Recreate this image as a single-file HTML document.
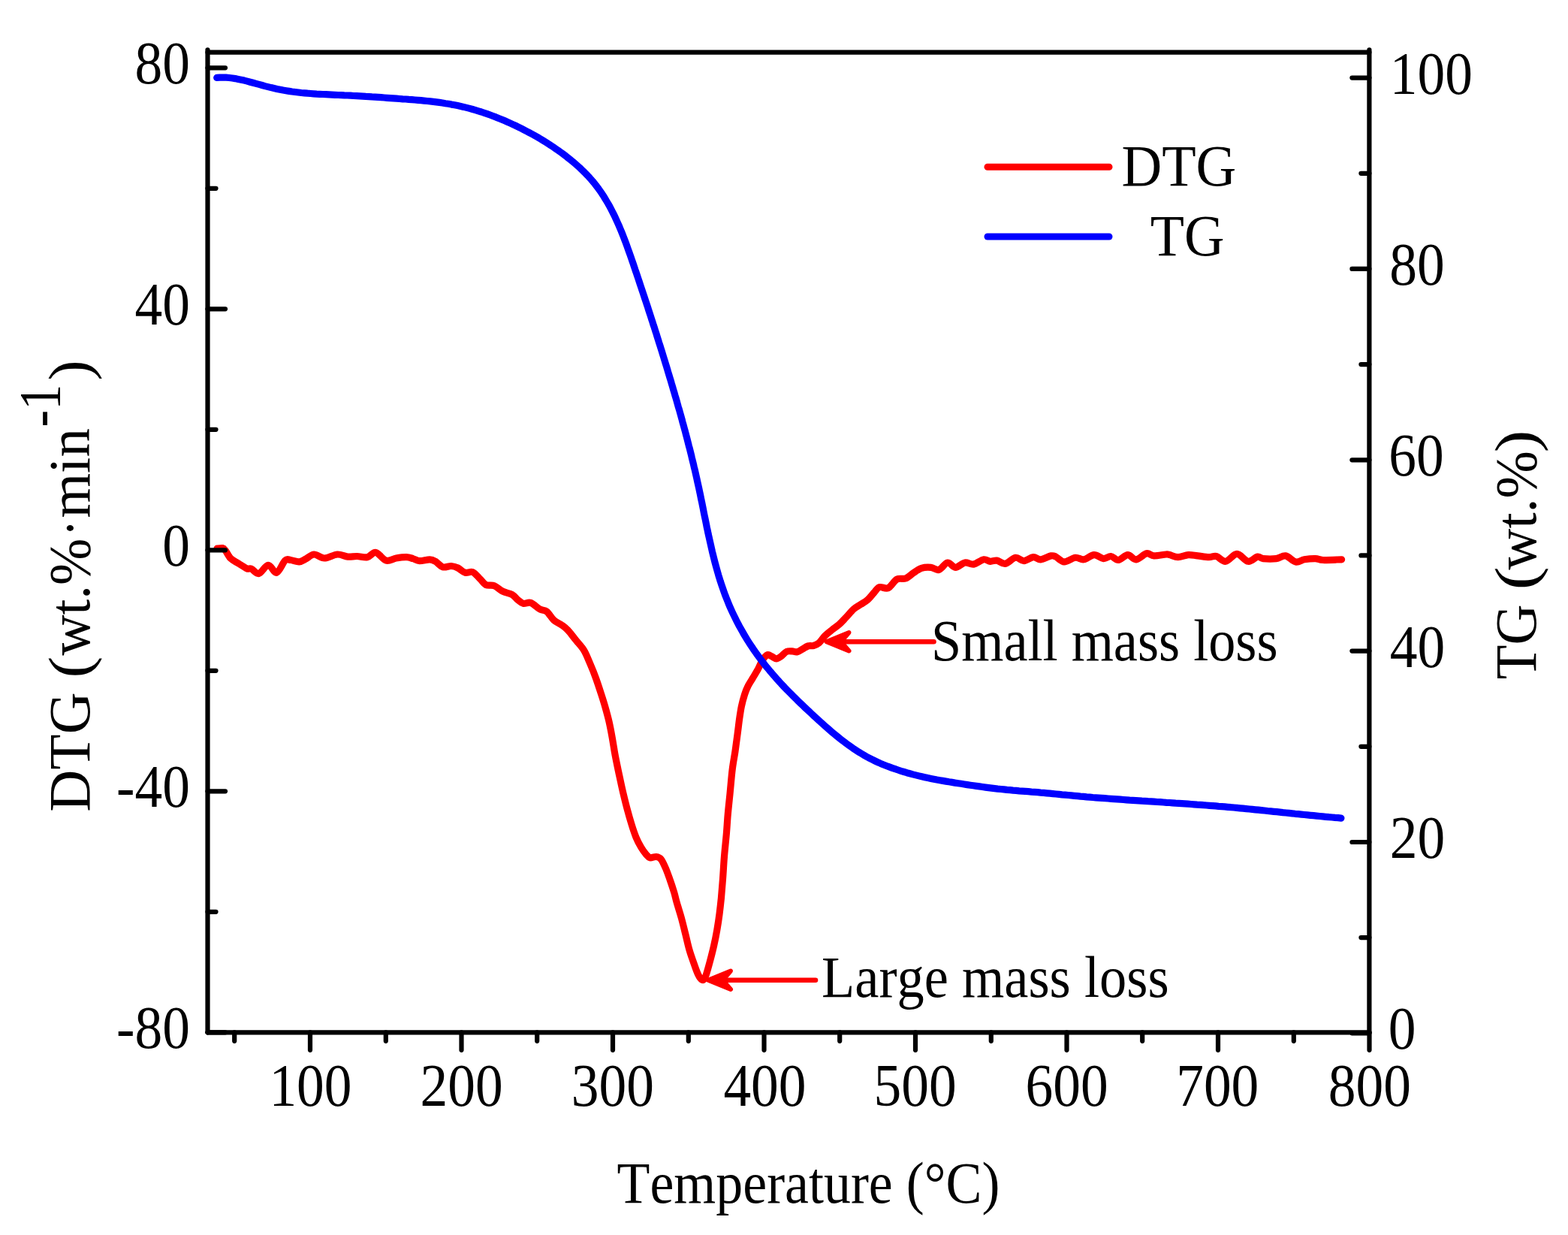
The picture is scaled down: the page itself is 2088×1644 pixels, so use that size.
<!DOCTYPE html>
<html><head><meta charset="utf-8"><title>TG-DTG</title>
<style>html,body{margin:0;padding:0;background:#fff;overflow:hidden;width:2088px;height:1644px;}svg{display:block;}</style></head>
<body><svg width="2088" height="1644" viewBox="0 0 2088 1644">
<rect width="2088" height="1644" fill="#fff"/>
<path d="M289.0,730.2 C290.2,730.1 294.4,729.2 296.2,729.6 C298.0,730.0 298.0,730.1 299.9,732.4 C301.8,734.7 304.5,740.7 307.4,743.6 C310.3,746.5 313.8,747.6 317.3,749.8 C320.8,752.0 325.6,755.5 328.5,756.7 C331.4,758.0 332.1,756.2 334.8,757.3 C337.5,758.4 341.0,764.3 344.7,763.5 C348.4,762.7 353.2,752.5 357.2,752.3 C361.1,752.1 364.7,763.3 368.4,762.3 C372.1,761.3 376.5,748.9 379.6,746.1 C382.7,743.3 384.0,745.2 387.1,745.5 C390.2,745.8 395.0,748.1 398.3,747.9 C401.6,747.7 403.7,745.9 407.0,744.2 C410.3,742.6 414.1,738.2 418.2,738.0 C422.3,737.8 426.7,743.0 431.9,743.0 C437.1,743.0 444.1,738.3 449.3,738.0 C454.5,737.7 458.6,740.7 463.0,741.1 C467.4,741.5 471.1,740.4 475.5,740.5 C479.9,740.6 485.1,742.5 489.2,741.7 C493.3,740.9 496.2,734.8 500.4,735.5 C504.5,736.2 509.6,744.9 514.1,746.1 C518.6,747.4 523.0,743.7 527.5,743.0 C532.0,742.3 537.5,741.6 541.2,741.7 C544.9,741.8 547.0,742.8 549.9,743.6 C552.8,744.4 554.9,746.5 558.6,746.7 C562.3,746.9 568.8,744.7 572.3,744.8 C575.8,744.9 576.9,745.6 579.8,747.3 C582.7,749.0 586.2,753.8 589.7,754.8 C593.2,755.8 597.6,753.3 600.9,753.5 C604.2,753.7 606.6,754.5 609.7,756.0 C612.8,757.5 616.3,761.4 619.6,762.3 C622.9,763.2 626.3,760.1 629.6,761.6 C632.9,763.1 636.7,768.2 639.6,771.0 C642.5,773.8 643.9,777.0 647.0,778.5 C650.1,780.0 654.5,778.2 658.2,779.7 C661.9,781.2 665.5,785.2 669.4,787.2 C673.3,789.2 678.6,789.6 681.9,791.5 C685.2,793.4 686.9,796.4 689.4,798.4 C691.9,800.4 693.9,802.7 696.8,803.4 C699.7,804.1 703.1,801.2 706.8,802.4 C710.4,803.6 715.2,808.8 718.7,810.8 C722.2,812.8 725.0,811.6 728.1,814.1 C731.2,816.6 734.1,822.5 737.5,825.5 C740.9,828.5 745.1,830.0 748.2,832.2 C751.3,834.4 753.1,835.6 756.2,838.9 C759.3,842.2 763.3,847.8 766.9,852.2 C770.5,856.7 774.5,860.5 777.6,865.6 C780.7,870.7 782.9,876.8 785.6,883.0 C788.3,889.2 791.2,896.4 793.6,903.1 C796.0,909.8 798.3,916.9 800.3,923.1 C802.3,929.3 803.9,934.2 805.7,940.5 C807.5,946.8 809.5,953.9 811.0,960.6 C812.5,967.3 813.8,974.1 815.0,980.7 C816.2,987.3 817.4,995.1 818.2,1000.0 C819.1,1004.9 819.0,1004.6 820.1,1010.1 C821.2,1015.6 823.2,1025.5 824.8,1032.8 C826.4,1040.1 827.8,1047.1 829.5,1054.2 C831.2,1061.3 832.9,1068.5 834.8,1075.6 C836.7,1082.7 838.9,1090.5 840.9,1097.0 C842.9,1103.5 844.8,1109.3 846.9,1114.4 C849.0,1119.5 851.4,1124.0 853.6,1127.8 C855.8,1131.6 858.3,1134.9 860.3,1137.2 C862.3,1139.5 863.4,1141.2 865.6,1141.8 C867.8,1142.3 871.2,1140.2 873.6,1140.5 C876.0,1140.8 878.1,1141.0 880.3,1143.8 C882.5,1146.6 885.0,1152.5 887.0,1157.2 C889.0,1161.9 890.6,1166.8 892.4,1171.9 C894.2,1177.0 896.2,1183.1 897.7,1188.0 C899.2,1192.9 899.5,1195.4 901.1,1201.1 C902.7,1206.8 905.5,1215.1 907.4,1222.1 C909.3,1229.1 911.0,1236.2 912.7,1243.2 C914.5,1250.2 916.0,1257.6 917.9,1264.3 C919.8,1271.0 922.4,1277.8 924.3,1283.3 C926.2,1288.8 927.8,1293.5 929.5,1297.0 C931.2,1300.5 933.2,1303.6 934.8,1304.3 C936.4,1305.0 937.2,1305.2 939.0,1301.2 C940.8,1297.2 943.4,1287.1 945.3,1280.1 C947.2,1273.1 949.0,1266.0 950.6,1259.0 C952.2,1252.0 953.6,1245.0 954.8,1238.0 C956.0,1231.0 957.1,1223.9 958.0,1216.9 C958.9,1209.9 959.6,1203.6 960.4,1195.8 C961.1,1188.0 961.8,1179.3 962.5,1170.0 C963.2,1160.7 963.7,1149.9 964.5,1140.0 C965.3,1130.1 966.5,1119.8 967.3,1110.4 C968.1,1101.0 968.5,1092.5 969.3,1083.6 C970.1,1074.7 971.0,1066.9 972.0,1056.9 C973.0,1046.9 974.1,1032.9 975.3,1023.4 C976.5,1013.9 977.9,1007.7 979.0,1000.0 C980.1,992.3 981.1,984.4 982.1,977.0 C983.1,969.6 983.9,962.0 984.8,955.9 C985.7,949.8 986.3,945.4 987.4,940.1 C988.5,934.8 990.2,928.7 991.6,924.3 C993.0,919.9 994.0,917.3 995.8,913.8 C997.5,910.3 999.8,907.1 1002.1,903.2 C1004.4,899.3 1007.2,894.8 1009.5,890.6 C1011.8,886.4 1013.7,881.1 1015.8,877.9 C1017.9,874.7 1020.3,872.3 1022.2,871.6 C1024.1,870.9 1025.5,872.8 1027.4,873.7 C1029.3,874.6 1031.7,876.9 1033.8,876.9 C1035.9,876.9 1037.8,875.3 1040.1,873.7 C1042.4,872.1 1045.0,868.5 1047.5,867.4 C1050.0,866.3 1052.5,866.8 1054.8,866.9 C1057.1,867.0 1058.9,868.3 1061.2,867.9 C1063.5,867.5 1066.0,865.5 1068.5,864.2 C1071.0,862.9 1073.4,860.8 1075.9,860.0 C1078.4,859.2 1080.8,860.2 1083.3,859.5 C1085.8,858.8 1088.2,858.0 1090.7,855.8 C1093.2,853.6 1095.5,849.4 1098.4,846.5 C1101.3,843.6 1104.7,841.0 1107.9,838.5 C1111.1,836.0 1114.4,833.8 1117.4,831.2 C1120.4,828.6 1122.6,826.1 1125.8,822.7 C1129.0,819.4 1133.1,814.1 1136.4,811.1 C1139.7,808.1 1142.7,806.9 1145.8,804.8 C1148.9,802.7 1152.3,801.1 1155.3,798.5 C1158.3,795.9 1161.2,791.8 1163.8,789.0 C1166.4,786.2 1167.9,782.6 1171.1,781.6 C1174.2,780.6 1178.8,784.5 1182.7,782.7 C1186.6,781.0 1190.4,773.2 1194.3,771.1 C1198.2,769.0 1202.2,771.4 1205.9,770.0 C1209.6,768.6 1212.9,765.0 1216.4,762.7 C1219.9,760.4 1223.1,757.5 1227.0,756.3 C1230.9,755.1 1235.7,754.9 1239.6,755.3 C1243.5,755.7 1246.5,759.5 1250.2,758.5 C1253.9,757.5 1258.1,749.5 1261.8,749.0 C1265.5,748.5 1268.4,755.3 1272.3,755.3 C1276.2,755.3 1280.9,749.7 1284.9,749.0 C1288.9,748.3 1292.3,751.8 1296.5,751.1 C1300.7,750.4 1306.3,745.4 1310.0,744.8 C1313.7,744.2 1315.8,747.1 1318.7,747.3 C1321.6,747.5 1324.1,745.6 1327.4,746.1 C1330.7,746.6 1334.4,751.0 1338.6,750.4 C1342.8,749.8 1348.1,742.9 1352.3,742.3 C1356.5,741.7 1359.5,746.8 1363.5,746.7 C1367.5,746.6 1372.3,742.0 1376.0,741.7 C1379.7,741.4 1382.0,745.1 1385.9,744.8 C1389.8,744.5 1396.3,740.5 1399.6,739.9 C1402.9,739.3 1403.0,739.8 1405.9,741.1 C1408.8,742.4 1412.8,747.7 1417.1,747.9 C1421.4,748.1 1427.7,742.8 1432.0,742.3 C1436.3,741.8 1439.0,745.4 1443.2,744.8 C1447.4,744.2 1452.5,738.8 1456.9,738.6 C1461.3,738.4 1465.7,743.3 1469.4,743.6 C1473.1,743.9 1476.0,740.2 1479.3,740.5 C1482.6,740.8 1485.6,745.8 1489.3,745.5 C1493.0,745.2 1497.8,738.7 1501.7,738.6 C1505.6,738.5 1508.7,745.1 1512.9,744.8 C1517.1,744.5 1522.8,737.5 1526.7,736.7 C1530.7,735.9 1532.2,739.7 1536.6,739.9 C1540.9,740.1 1549.3,738.2 1552.8,738.0 C1556.3,737.8 1554.8,738.0 1557.5,738.6 C1560.2,739.2 1564.5,741.7 1568.7,741.7 C1572.9,741.7 1578.1,738.9 1582.4,738.6 C1586.8,738.3 1590.2,739.4 1594.8,739.9 C1599.4,740.4 1605.6,741.6 1609.8,741.7 C1614.0,741.8 1616.0,739.6 1619.7,740.5 C1623.4,741.4 1627.6,747.8 1632.2,747.3 C1636.8,746.8 1642.1,737.4 1647.1,737.4 C1652.1,737.4 1657.5,746.7 1662.1,747.3 C1666.7,747.9 1671.2,741.7 1674.5,741.1 C1677.8,740.5 1677.8,743.2 1682.0,743.6 C1686.2,744.0 1694.4,744.2 1699.4,743.6 C1704.4,743.0 1707.5,739.2 1711.9,739.9 C1716.3,740.6 1721.4,747.2 1725.6,748.0 C1729.8,748.8 1732.4,745.5 1736.8,744.8 C1741.2,744.1 1747.5,743.5 1751.7,743.6 C1755.9,743.7 1755.9,745.3 1761.7,745.5 C1767.5,745.7 1782.4,744.9 1786.6,744.8" fill="none" stroke="#ff0000" stroke-width="9.2" stroke-linejoin="round" stroke-linecap="round"/>
<polyline points="288.7,103.4 292.8,103.1 297.0,103.1 301.0,103.2 305.1,103.5 309.2,104.0 313.2,104.6 317.2,105.4 321.2,106.2 325.2,107.1 329.2,108.1 333.1,109.2 337.1,110.3 341.1,111.4 345.0,112.4 349.0,113.5 352.9,114.6 356.9,115.6 360.9,116.6 364.9,117.5 368.9,118.4 372.9,119.2 376.9,120.0 380.9,120.7 385.0,121.4 389.0,122.0 393.1,122.5 397.1,123.0 401.2,123.5 405.3,123.8 409.4,124.2 413.4,124.5 417.5,124.8 421.6,125.1 425.7,125.3 429.8,125.5 433.9,125.7 438.0,125.9 442.1,126.1 446.2,126.3 450.3,126.5 454.4,126.7 458.5,126.9 462.6,127.0 466.7,127.2 470.8,127.5 474.9,127.7 478.9,127.9 483.0,128.1 487.1,128.4 491.2,128.6 495.3,128.9 499.4,129.1 503.5,129.4 507.6,129.7 511.6,130.0 515.7,130.3 519.8,130.6 523.9,130.9 528.0,131.2 532.1,131.5 536.2,131.8 540.3,132.0 544.3,132.4 548.4,132.7 552.5,133.0 556.6,133.3 560.7,133.7 564.8,134.1 568.8,134.5 572.9,134.9 577.0,135.4 581.0,135.9 585.1,136.4 589.2,137.0 593.2,137.7 597.3,138.3 601.3,139.1 605.3,139.8 609.3,140.6 613.4,141.5 617.4,142.4 621.3,143.4 625.3,144.4 629.3,145.5 633.2,146.6 637.1,147.8 641.0,149.0 644.9,150.3 648.8,151.6 652.6,153.0 656.5,154.5 660.3,155.9 664.1,157.5 667.9,159.0 671.7,160.6 675.4,162.2 679.2,163.9 682.9,165.6 686.6,167.3 690.3,169.1 694.0,170.9 697.7,172.8 701.3,174.7 704.9,176.6 708.5,178.5 712.1,180.5 715.7,182.5 719.2,184.6 722.7,186.7 726.2,188.9 729.7,191.1 733.1,193.3 736.5,195.5 739.9,197.9 743.3,200.2 746.6,202.6 749.9,205.0 753.2,207.5 756.4,210.1 759.6,212.6 762.8,215.2 765.9,217.9 769.0,220.6 772.1,223.4 775.0,226.2 778.0,229.1 780.8,232.0 783.6,234.9 786.4,238.0 789.0,241.0 791.6,244.2 794.1,247.4 796.5,250.6 798.9,253.9 801.2,257.2 803.4,260.6 805.5,264.0 807.6,267.5 809.7,271.0 811.7,274.6 813.6,278.2 815.5,281.8 817.3,285.4 819.1,289.1 820.8,292.9 822.5,296.6 824.2,300.4 825.8,304.2 827.4,308.0 828.9,311.8 830.4,315.7 831.9,319.5 833.4,323.4 834.8,327.3 836.2,331.2 837.6,335.1 839.0,339.0 840.4,343.0 841.7,346.9 843.1,350.8 844.4,354.7 845.7,358.7 847.1,362.6 848.4,366.5 849.7,370.4 851.0,374.3 852.3,378.2 853.6,382.1 854.9,386.0 856.2,389.9 857.5,393.8 858.8,397.7 860.1,401.6 861.4,405.5 862.7,409.4 863.9,413.3 865.2,417.2 866.5,421.1 867.7,425.0 869.0,428.9 870.2,432.8 871.5,436.6 872.7,440.5 874.0,444.4 875.2,448.3 876.4,452.2 877.6,456.1 878.9,460.0 880.1,463.8 881.3,467.7 882.5,471.6 883.7,475.5 884.9,479.4 886.1,483.3 887.3,487.2 888.5,491.1 889.6,495.0 890.8,498.9 892.0,502.8 893.2,506.7 894.3,510.6 895.5,514.5 896.6,518.4 897.8,522.4 898.9,526.3 900.1,530.2 901.2,534.1 902.3,538.1 903.4,542.0 904.6,545.9 905.7,549.9 906.8,553.8 907.9,557.7 908.9,561.7 910.0,565.6 911.1,569.6 912.2,573.5 913.2,577.5 914.3,581.5 915.3,585.4 916.3,589.4 917.3,593.4 918.4,597.3 919.4,601.3 920.4,605.3 921.3,609.3 922.3,613.3 923.3,617.3 924.2,621.3 925.2,625.3 926.1,629.3 927.0,633.3 927.9,637.3 928.8,641.4 929.7,645.4 930.6,649.4 931.4,653.4 932.3,657.5 933.1,661.5 933.9,665.6 934.8,669.6 935.6,673.7 936.4,677.7 937.2,681.8 938.0,685.8 938.9,689.9 939.7,693.9 940.5,697.9 941.3,702.0 942.2,706.0 943.0,710.1 943.9,714.1 944.8,718.1 945.7,722.1 946.6,726.1 947.5,730.1 948.4,734.1 949.4,738.1 950.4,742.1 951.4,746.1 952.4,750.0 953.5,754.0 954.6,757.9 955.7,761.9 956.8,765.8 958.0,769.7 959.2,773.6 960.5,777.4 961.8,781.3 963.1,785.1 964.5,789.0 965.9,792.8 967.4,796.6 968.9,800.3 970.4,804.1 972.0,807.8 973.7,811.6 975.4,815.3 977.1,818.9 978.9,822.6 980.7,826.2 982.6,829.9 984.5,833.5 986.5,837.0 988.5,840.6 990.5,844.1 992.6,847.6 994.7,851.1 996.9,854.6 999.1,858.0 1001.4,861.4 1003.7,864.8 1006.0,868.1 1008.4,871.5 1010.8,874.8 1013.2,878.1 1015.7,881.3 1018.2,884.6 1020.8,887.8 1023.4,890.9 1026.0,894.1 1028.7,897.2 1031.4,900.3 1034.1,903.4 1036.8,906.4 1039.6,909.5 1042.4,912.5 1045.2,915.5 1048.1,918.4 1051.0,921.4 1053.9,924.3 1056.8,927.2 1059.7,930.1 1062.6,933.0 1065.6,935.9 1068.6,938.7 1071.6,941.6 1074.6,944.4 1077.6,947.2 1080.6,950.0 1083.6,952.8 1086.7,955.6 1089.7,958.4 1092.7,961.1 1095.8,963.9 1098.8,966.6 1101.9,969.3 1105.0,972.0 1108.1,974.7 1111.2,977.3 1114.4,979.9 1117.5,982.4 1120.7,985.0 1124.0,987.4 1127.2,989.9 1130.5,992.3 1133.8,994.6 1137.1,996.9 1140.5,999.1 1143.9,1001.3 1147.4,1003.4 1150.9,1005.5 1154.4,1007.5 1158.0,1009.4 1161.6,1011.2 1165.3,1013.0 1169.0,1014.7 1172.8,1016.4 1176.6,1018.0 1180.4,1019.5 1184.2,1020.9 1188.1,1022.4 1192.0,1023.7 1195.9,1025.0 1199.8,1026.3 1203.8,1027.5 1207.7,1028.7 1211.6,1029.8 1215.6,1030.9 1219.6,1031.9 1223.6,1032.9 1227.5,1033.8 1231.5,1034.7 1235.5,1035.6 1239.6,1036.4 1243.6,1037.2 1247.6,1038.0 1251.6,1038.7 1255.6,1039.4 1259.7,1040.1 1263.7,1040.8 1267.8,1041.4 1271.8,1042.1 1275.9,1042.7 1279.9,1043.3 1284.0,1044.0 1288.0,1044.6 1292.1,1045.2 1296.1,1045.8 1300.2,1046.4 1304.2,1046.9 1308.3,1047.5 1312.4,1048.1 1316.4,1048.6 1320.5,1049.1 1324.6,1049.6 1328.6,1050.1 1332.7,1050.5 1336.8,1050.9 1340.9,1051.4 1344.9,1051.7 1349.0,1052.1 1353.1,1052.4 1357.2,1052.8 1361.3,1053.1 1365.4,1053.4 1369.4,1053.7 1373.5,1054.1 1377.6,1054.4 1381.7,1054.7 1385.8,1055.1 1389.9,1055.4 1393.9,1055.8 1398.0,1056.2 1402.1,1056.6 1406.2,1057.0 1410.3,1057.4 1414.3,1057.8 1418.4,1058.1 1422.5,1058.5 1426.6,1058.9 1430.7,1059.3 1434.7,1059.7 1438.8,1060.1 1442.9,1060.4 1447.0,1060.8 1451.1,1061.1 1455.2,1061.5 1459.2,1061.8 1463.3,1062.1 1467.4,1062.4 1471.5,1062.7 1475.6,1063.0 1479.7,1063.3 1483.8,1063.6 1487.8,1063.9 1491.9,1064.2 1496.0,1064.5 1500.1,1064.8 1504.2,1065.1 1508.3,1065.3 1512.4,1065.6 1516.5,1065.9 1520.5,1066.2 1524.6,1066.4 1528.7,1066.7 1532.8,1066.9 1536.9,1067.2 1541.0,1067.5 1545.1,1067.7 1549.2,1068.0 1553.3,1068.3 1557.4,1068.5 1561.4,1068.8 1565.5,1069.1 1569.6,1069.3 1573.7,1069.6 1577.8,1069.9 1581.9,1070.2 1586.0,1070.5 1590.1,1070.8 1594.1,1071.1 1598.2,1071.3 1602.3,1071.7 1606.4,1072.0 1610.5,1072.3 1614.6,1072.6 1618.7,1072.9 1622.7,1073.3 1626.8,1073.6 1630.9,1073.9 1635.0,1074.3 1639.1,1074.7 1643.2,1075.0 1647.2,1075.4 1651.3,1075.8 1655.4,1076.2 1659.5,1076.6 1663.6,1077.0 1667.6,1077.4 1671.7,1077.8 1675.8,1078.2 1679.9,1078.6 1683.9,1079.0 1688.0,1079.5 1692.1,1079.9 1696.2,1080.3 1700.3,1080.7 1704.3,1081.1 1708.4,1081.6 1712.5,1082.0 1716.6,1082.4 1720.6,1082.8 1724.7,1083.3 1728.8,1083.7 1732.9,1084.1 1736.9,1084.5 1741.0,1084.9 1745.1,1085.3 1749.2,1085.7 1753.3,1086.1 1757.3,1086.5 1761.4,1086.9 1765.5,1087.3 1769.6,1087.7 1773.7,1088.0 1777.7,1088.4 1781.8,1088.7 1785.9,1089.1" fill="none" stroke="#0000ff" stroke-width="9.2" stroke-linejoin="round" stroke-linecap="round"/>
<line x1="962.0" y1="1304.7" x2="1086.0" y2="1304.7" stroke="#ff0000" stroke-width="6.6" stroke-linecap="round"/>
<polygon points="943.0,1304.7 973.0,1292.5 962.5,1304.7 973.0,1316.9" fill="#ff0000" stroke="#ff0000" stroke-width="6" stroke-linejoin="round"/>
<line x1="1119.5" y1="854.2" x2="1243.5" y2="854.2" stroke="#ff0000" stroke-width="6.6" stroke-linecap="round"/>
<polygon points="1100.5,854.2 1130.5,842.0 1120.0,854.2 1130.5,866.4" fill="#ff0000" stroke="#ff0000" stroke-width="6" stroke-linejoin="round"/>
<line x1="1315" y1="222.2" x2="1477" y2="222.2" stroke="#ff0000" stroke-width="9" stroke-linecap="round"/>
<line x1="1315" y1="315.0" x2="1477" y2="315.0" stroke="#0000ff" stroke-width="9" stroke-linecap="round"/>
<g stroke="#000" stroke-width="6.2" stroke-linecap="round"><line x1="276.5" y1="69.7" x2="1823.4" y2="69.7" stroke="#000" stroke-width="6.2"/><line x1="276.5" y1="1374.3" x2="1823.4" y2="1374.3" stroke="#000" stroke-width="6.2"/><line x1="276.5" y1="66.4" x2="276.5" y2="1374.3" stroke="#000" stroke-width="6.2" stroke-linecap="round"/><line x1="1823.4" y1="66.4" x2="1823.4" y2="1374.3" stroke="#000" stroke-width="6.2" stroke-linecap="round"/><line x1="276.5" y1="90.3" x2="300.0" y2="90.3"/><line x1="276.5" y1="411.3" x2="300.0" y2="411.3"/><line x1="276.5" y1="732.3" x2="300.0" y2="732.3"/><line x1="276.5" y1="1053.3" x2="300.0" y2="1053.3"/><line x1="276.5" y1="1374.3" x2="300.0" y2="1374.3"/><line x1="276.5" y1="250.8" x2="287.5" y2="250.8"/><line x1="276.5" y1="571.8" x2="287.5" y2="571.8"/><line x1="276.5" y1="892.8" x2="287.5" y2="892.8"/><line x1="276.5" y1="1213.8" x2="287.5" y2="1213.8"/><line x1="1823.4" y1="103.6" x2="1800.4" y2="103.6"/><line x1="1823.4" y1="357.9" x2="1800.4" y2="357.9"/><line x1="1823.4" y1="612.3" x2="1800.4" y2="612.3"/><line x1="1823.4" y1="866.6" x2="1800.4" y2="866.6"/><line x1="1823.4" y1="1121.0" x2="1800.4" y2="1121.0"/><line x1="1823.4" y1="1375.3" x2="1800.4" y2="1375.3"/><line x1="1823.4" y1="230.8" x2="1812.4" y2="230.8"/><line x1="1823.4" y1="485.1" x2="1812.4" y2="485.1"/><line x1="1823.4" y1="739.4" x2="1812.4" y2="739.4"/><line x1="1823.4" y1="993.8" x2="1812.4" y2="993.8"/><line x1="1823.4" y1="1248.1" x2="1812.4" y2="1248.1"/><line x1="413.0" y1="1374.3" x2="413.0" y2="1397.8"/><line x1="614.5" y1="1374.3" x2="614.5" y2="1397.8"/><line x1="816.0" y1="1374.3" x2="816.0" y2="1397.8"/><line x1="1017.5" y1="1374.3" x2="1017.5" y2="1397.8"/><line x1="1219.0" y1="1374.3" x2="1219.0" y2="1397.8"/><line x1="1420.5" y1="1374.3" x2="1420.5" y2="1397.8"/><line x1="1622.0" y1="1374.3" x2="1622.0" y2="1397.8"/><line x1="1823.5" y1="1374.3" x2="1823.5" y2="1397.8"/><line x1="312.2" y1="1374.3" x2="312.2" y2="1385.8"/><line x1="513.8" y1="1374.3" x2="513.8" y2="1385.8"/><line x1="715.2" y1="1374.3" x2="715.2" y2="1385.8"/><line x1="916.8" y1="1374.3" x2="916.8" y2="1385.8"/><line x1="1118.2" y1="1374.3" x2="1118.2" y2="1385.8"/><line x1="1319.8" y1="1374.3" x2="1319.8" y2="1385.8"/><line x1="1521.2" y1="1374.3" x2="1521.2" y2="1385.8"/><line x1="1722.8" y1="1374.3" x2="1722.8" y2="1385.8"/></g>
<g font-family="Liberation Serif, Times New Roman, serif" style="font-kerning:none" fill="#000">
<text transform="translate(179.45,111.40) scale(0.9170,1)" font-size="80.1">80</text>
<text transform="translate(179.45,432.40) scale(0.9170,1)" font-size="80.1">40</text>
<text transform="translate(216.17,753.40) scale(0.9170,1)" font-size="80.1">0</text>
<text transform="translate(154.99,1074.40) scale(0.9170,1)" font-size="80.1">-40</text>
<text transform="translate(154.99,1395.40) scale(0.9170,1)" font-size="80.1">-80</text>
<text transform="translate(1850.80,124.60) scale(0.9170,1)" font-size="80.1">100</text>
<text transform="translate(1850.30,378.94) scale(0.9170,1)" font-size="80.1">80</text>
<text transform="translate(1849.30,633.28) scale(0.9170,1)" font-size="80.1">60</text>
<text transform="translate(1850.80,887.62) scale(0.9170,1)" font-size="80.1">40</text>
<text transform="translate(1850.80,1141.96) scale(0.9170,1)" font-size="80.1">20</text>
<text transform="translate(1848.80,1396.30) scale(0.9170,1)" font-size="80.1">0</text>
<text transform="translate(358.38,1472.00) scale(0.9170,1)" font-size="80.1">100</text>
<text transform="translate(559.50,1472.00) scale(0.9170,1)" font-size="80.1">200</text>
<text transform="translate(760.85,1472.00) scale(0.9170,1)" font-size="80.1">300</text>
<text transform="translate(963.39,1472.00) scale(0.9170,1)" font-size="80.1">400</text>
<text transform="translate(1163.48,1472.00) scale(0.9170,1)" font-size="80.1">500</text>
<text transform="translate(1365.53,1472.00) scale(0.9170,1)" font-size="80.1">600</text>
<text transform="translate(1566.19,1472.00) scale(0.9170,1)" font-size="80.1">700</text>
<text transform="translate(1768.71,1472.00) scale(0.9170,1)" font-size="80.1">800</text>
<text transform="translate(821.50,1600.70) scale(0.9232,1)" font-size="77.9">Temperature (°C)</text>
<text transform="translate(1493.46,246.80) scale(0.9487,1)" font-size="78.4">DTG</text>
<text transform="translate(1531.66,340.20) scale(0.9425,1)" font-size="78.6">TG</text>
<text transform="translate(1240.07,879.30) scale(0.9202,1)" font-size="78.5">Small mass loss</text>
<text transform="translate(1094.01,1327.10) scale(0.9226,1)" font-size="78.5">Large mass loss</text>
<text transform="translate(2045.10,904.36) rotate(-90) scale(0.9566,1)" font-size="78.5">TG</text>
<text transform="translate(2045.10,785.52) rotate(-90) scale(1.1953,1)" font-size="78.5">(</text>
<text transform="translate(2045.10,758.47) rotate(-90) scale(0.9685,1)" font-size="78.5">wt.%</text>
<text transform="translate(2045.10,602.40) rotate(-90) scale(1.1457,1)" font-size="78.5">)</text>
<text transform="translate(119.30,1080.63) rotate(-90) scale(0.9916,1)" font-size="78.2">DTG</text>
<text transform="translate(119.30,902.38) rotate(-90) scale(1.1003,1)" font-size="78.2">(</text>
<text transform="translate(119.30,872.57) rotate(-90) scale(0.9579,1)" font-size="78.2">wt.%</text>
<text transform="translate(119.30,714.27) rotate(-90) scale(0.8658,1)" font-size="78.2">·</text>
<text transform="translate(119.30,689.61) rotate(-90) scale(0.9813,1)" font-size="78.2">min</text>
<text transform="translate(78.90,568.43) rotate(-90) scale(0.8707,1)" font-size="78.2">-1</text>
<text transform="translate(119.30,506.85) rotate(-90) scale(1.0506,1)" font-size="78.2">)</text>
</g>
</svg></body></html>
